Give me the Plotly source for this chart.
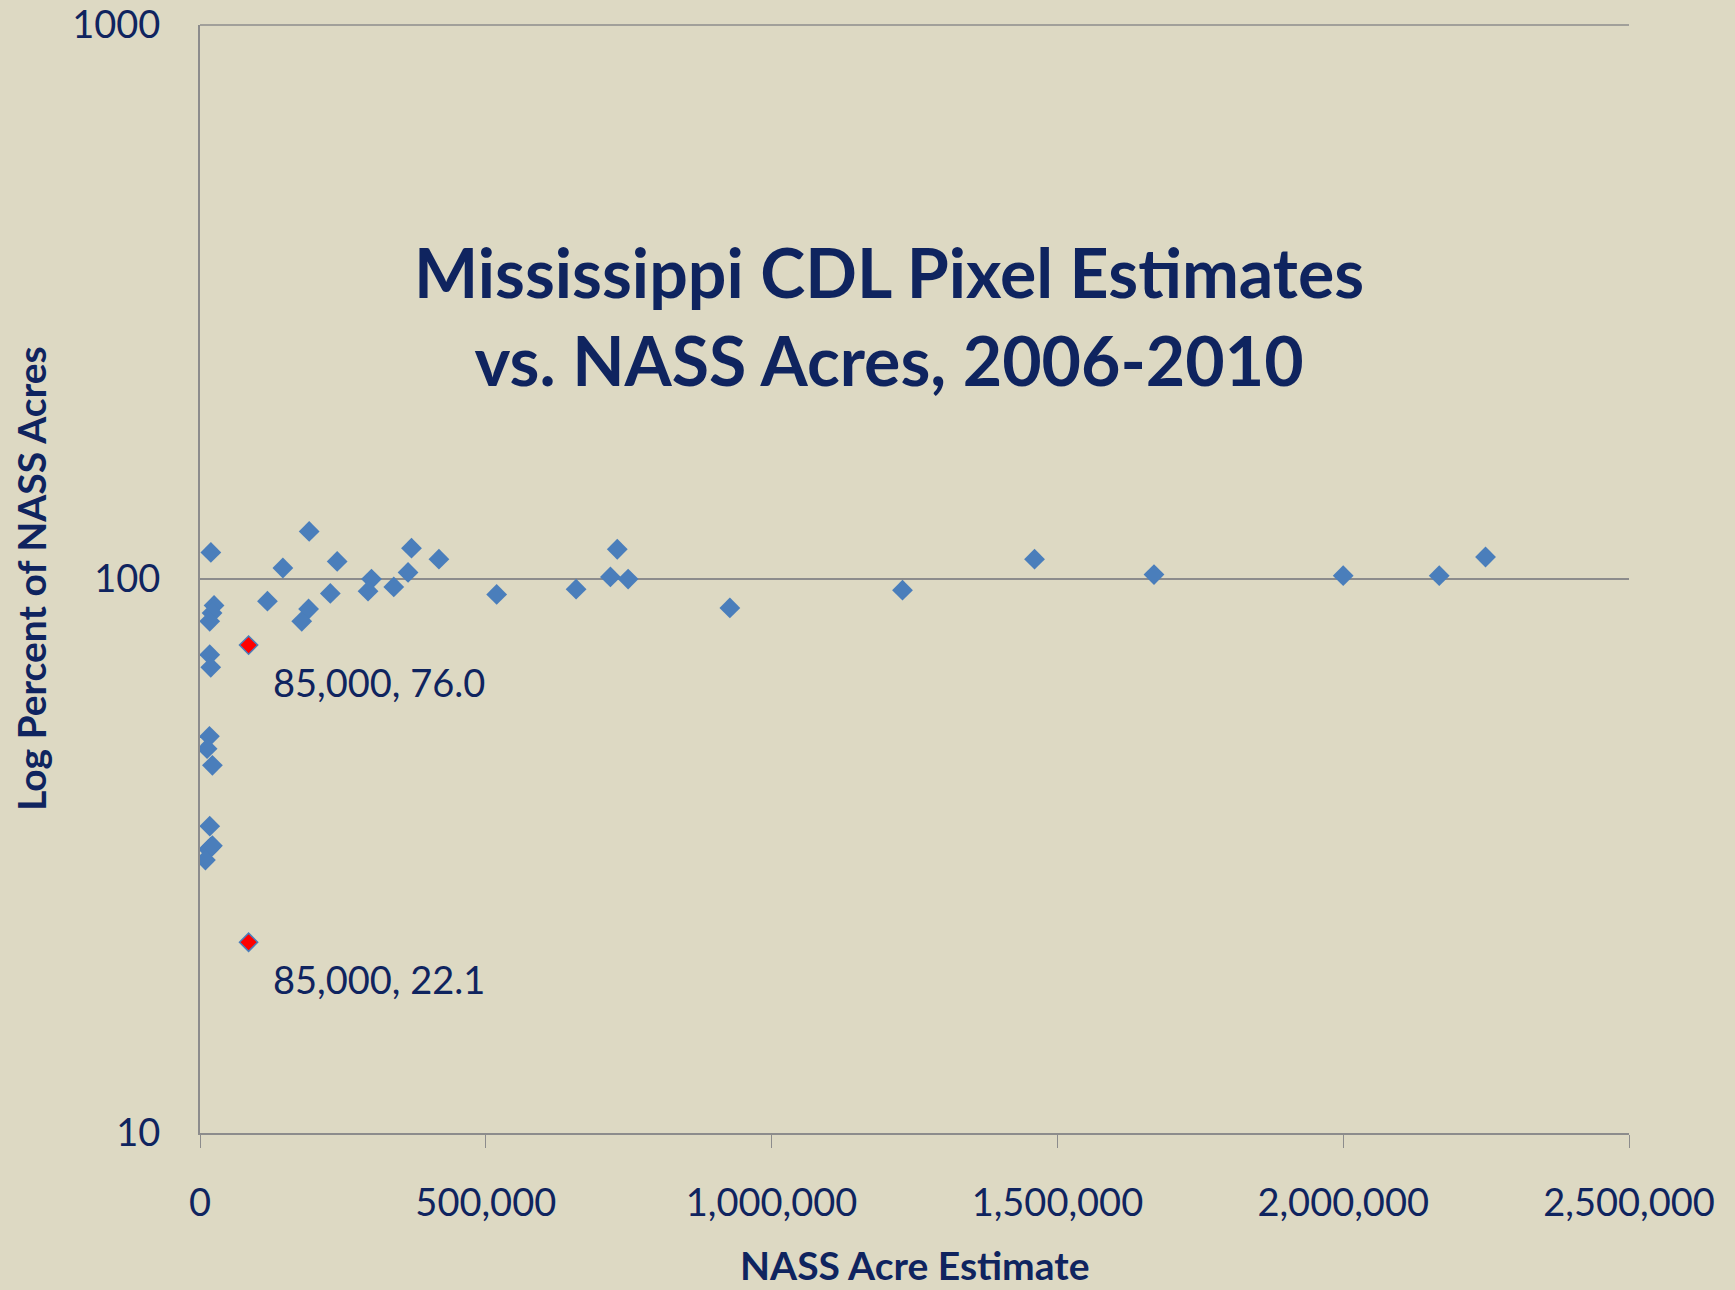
import numpy as np
import plotly.graph_objects as go

# NASS acre estimate vs CDL pixel estimate as percent of NASS acres
nass_acres = [
    19000, 191000, 370000, 418000, 145000, 240000, 300000, 364000,
    294000, 339000, 228000, 118000, 190000, 178000, 519000, 658000,
    730000, 718000, 749000, 927000, 1229000, 1460000, 1669000, 2000000,
    2168000, 2249000,
    24600, 21100, 17000, 17000, 18800, 16500, 12400, 21700,
    17000, 18800, 15000, 21700, 9500,
]
pct_nass = [
    111.7, 121.9, 113.7, 108.6, 104.7, 107.6, 100.0, 102.8,
    95.1, 96.8, 94.2, 91.2, 88.3, 83.9, 93.8, 95.9,
    113.2, 100.9, 100.0, 88.7, 95.5, 108.6, 101.9, 101.4,
    101.4, 109.6,
    89.6, 86.8, 83.9, 73.0, 69.3, 52.0, 49.4, 46.1,
    35.8, 32.8, 32.5, 33.0, 31.1,
]

# Highlighted points
hl_acres = [85000, 85000]
hl_pct = [76.0, 22.1]
hl_labels = ["85,000, 76.0", "85,000, 22.1"]

x_ticks = [0, 500000, 1000000, 1500000, 2000000, 2500000]
x_tick_labels = ["0", "500,000", "1,000,000", "1,500,000", "2,000,000", "2,500,000"]
y_ticks = [10, 100, 1000]
y_tick_labels = ["10", "100", "1000"]

NAVY = "#0f245f"
BG = "#ddd9c3"
BLUE = "#4a7ebb"
GRID = "#8c8c8c"
FONT = "Lato"

fig = go.Figure()
fig.add_trace(go.Scatter(
    x=nass_acres, y=pct_nass, mode="markers",
    marker=dict(symbol="diamond", size=16, color=BLUE, line=dict(width=0)),
    showlegend=False,
))
fig.add_trace(go.Scatter(
    x=hl_acres, y=hl_pct, mode="markers",
    marker=dict(symbol="diamond", size=14, color="#ff0000", line=dict(width=1.5, color=BLUE)),
    showlegend=False,
))

for xa, ya, lab in zip(hl_acres, hl_pct, hl_labels):
    fig.add_annotation(
        x=xa, y=np.log10(ya), text=lab, showarrow=False,
        xanchor="left", yanchor="middle", xshift=22, yshift=-37,
        font=dict(family=FONT, size=38, color=NAVY),
    )

fig.add_annotation(
    xref="paper", yref="paper", x=0.482, y=0.738,
    text="<b>Mississippi CDL Pixel Estimates<br>vs. NASS Acres, 2006-2010</b>",
    showarrow=False, xanchor="center", yanchor="middle", align="center",
    font=dict(family=FONT, size=68, color=NAVY),
)

# axis titles as annotations for exact placement
fig.add_annotation(
    xref="paper", yref="paper", x=0.5, y=0, yshift=-132,
    text="<b>NASS Acre Estimate</b>", showarrow=False,
    xanchor="center", yanchor="middle",
    font=dict(family=FONT, size=39, color=NAVY),
)
fig.add_annotation(
    xref="paper", yref="paper", x=0, y=0.5, xshift=-169,
    text="<b>Log Percent of NASS Acres</b>", showarrow=False, textangle=-90,
    xanchor="center", yanchor="middle",
    font=dict(family=FONT, size=39, color=NAVY),
)

# top gridline at 1000
fig.add_shape(type="line", xref="paper", yref="paper", x0=0, x1=1, y0=1, y1=1,
              line=dict(color=GRID, width=1.5), layer="below")

fig.update_layout(
    width=1735, height=1290,
    paper_bgcolor=BG, plot_bgcolor=BG,
    margin=dict(l=200, r=106, t=25, b=157, autoexpand=False),
    font=dict(family=FONT, color=NAVY),
    xaxis=dict(
        range=[0, 2500000], tickvals=x_ticks, ticktext=x_tick_labels,
        showgrid=False, zeroline=False, automargin=False,
        showline=True, linecolor=GRID, linewidth=2,
        ticks="outside", ticklen=13, tickcolor=GRID, tickwidth=1,
        ticklabelstandoff=22,
        tickfont=dict(family=FONT, size=38, color=NAVY),
    ),
    yaxis=dict(
        type="log", range=[1, 3.0002], tickvals=y_ticks, ticktext=y_tick_labels,
        showgrid=True, gridcolor=GRID, gridwidth=1.5, automargin=False,
        zeroline=False, showline=True, linecolor=GRID, linewidth=2,
        ticks="", ticklabelstandoff=30,
        tickfont=dict(family=FONT, size=38, color=NAVY),
    ),
)

fig.write_html(
    "out.html",
    config={"displayModeBar": False},
    post_script="document.body.style.margin='0';document.body.style.background='%s';" % BG,
)
